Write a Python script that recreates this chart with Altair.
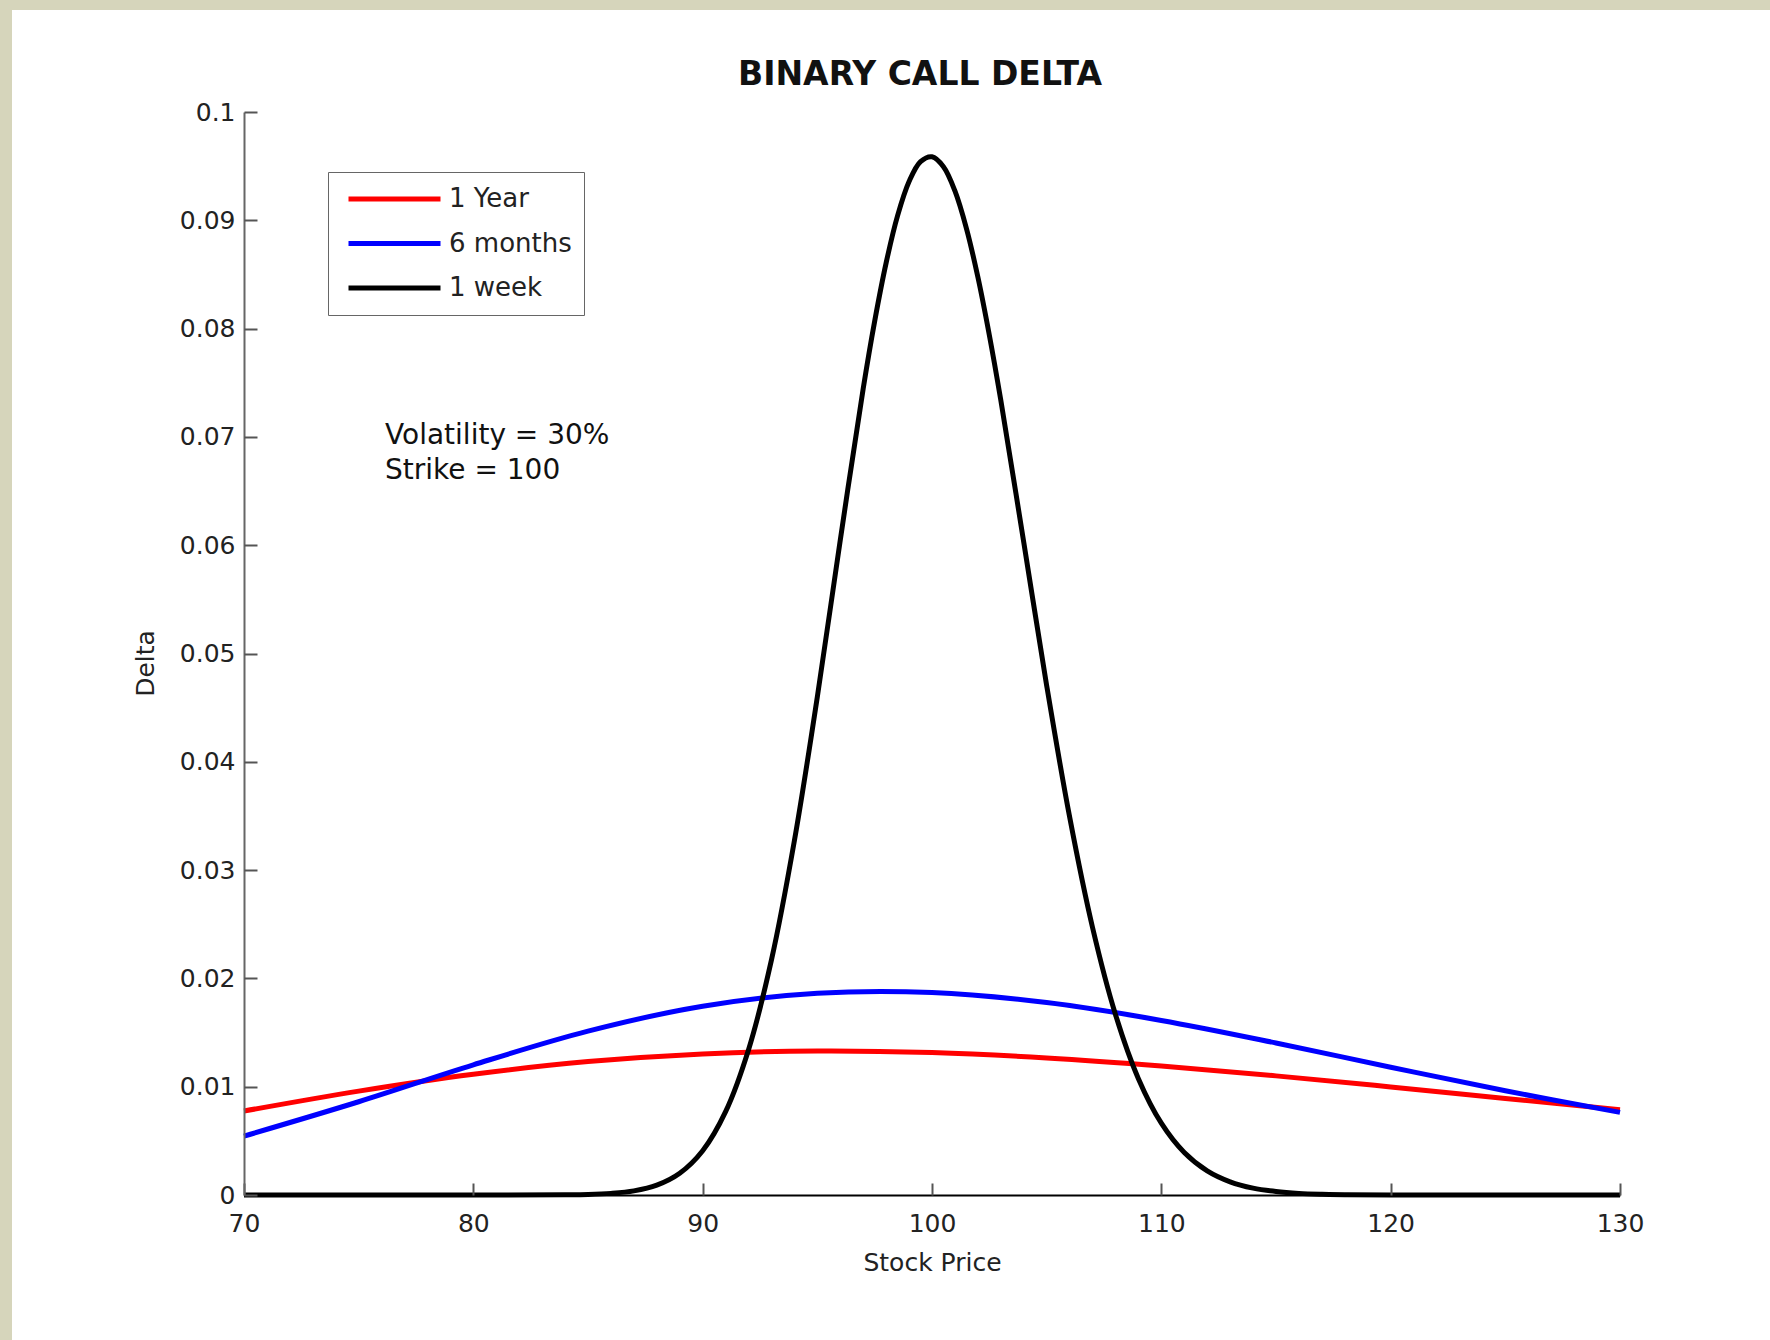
import altair as alt
import pandas as pd

FONT = "DejaVu Sans"
W, H = 1376, 1083

# ---- data ----
series_names = ["1 Year", "6 months", "1 week"]
series_colors = ["#ff0000", "#0000ff", "#000000"]

price_1y = [70, 75, 80, 85, 90, 95, 100, 105, 110, 115, 120, 125, 130]
delta_1y = [0.00775, 0.00959, 0.01115, 0.01232, 0.01303, 0.01330, 0.01315,
            0.01266, 0.01192, 0.01100, 0.00998, 0.00892, 0.00787]

price_6m = [70, 75, 80, 85, 90, 95, 100, 105, 110, 115, 120, 125, 130]
delta_6m = [0.00544, 0.00861, 0.01202, 0.01513, 0.01743, 0.01863, 0.01870,
            0.01777, 0.01612, 0.01404, 0.01180, 0.00962, 0.00763]

price_1w = [70, 80, 84, 85, 86, 87, 88, 89, 90, 91, 92, 93, 94, 95, 96, 97, 97.5,
            98, 98.5, 99, 99.5, 100, 100.5, 101, 101.5, 102, 102.5, 103, 104, 105,
            106, 107, 108, 109, 110, 111, 112, 113, 114, 115, 116, 117, 118, 120, 130]
delta_1w = [0.0, 0.0, 0.00002, 0.00005, 0.00015, 0.00038, 0.00091, 0.00201, 0.00409,
            0.00770, 0.01342, 0.02171, 0.03272, 0.04600, 0.06047, 0.07446, 0.08068,
            0.08607, 0.09043, 0.09358, 0.09542, 0.09587, 0.09495, 0.09271, 0.08926,
            0.08476, 0.07940, 0.07339, 0.06028, 0.04704, 0.03492, 0.02470, 0.01667,
            0.01074, 0.00663, 0.00392, 0.00222, 0.00121, 0.00063, 0.00032, 0.00015,
            0.00007, 0.00003, 0.0, 0.0]

x_ticks = [70, 80, 90, 100, 110, 120, 130]
y_ticks = [0, 0.01, 0.02, 0.03, 0.04, 0.05, 0.06, 0.07, 0.08, 0.09, 0.1]

note_lines = ["Volatility = 30%", "Strike = 100"]
note_x = [76.15, 76.15]
note_y = [0.0693, 0.0661]

title_text = "BINARY CALL DELTA"
x_title = "Stock Price"
y_title = "Delta"

# ---- build table ----
rows = []
for name, xs, ys in [("1 Year", price_1y, delta_1y),
                     ("6 months", price_6m, delta_6m),
                     ("1 week", price_1w, delta_1w)]:
    for s, d in zip(xs, ys):
        rows.append({"S": s, "Delta": d, "Series": name})
df = pd.DataFrame(rows)
notes = pd.DataFrame({"x": note_x, "y": note_y, "t": note_lines})

xscale = alt.Scale(domain=[70, 130], nice=False, zero=False)
yscale = alt.Scale(domain=[0, 0.1], nice=False, zero=False)

panel = alt.Chart(pd.DataFrame({"a": [0]})).mark_rect(fill="white").encode(
    x=alt.value(-232), x2=alt.value(W + 150), y=alt.value(-102), y2=alt.value(H + 145)
)

title = alt.Chart(pd.DataFrame({"t": [title_text]})).mark_text(
    align="center", baseline="alphabetic", fontSize=33, font=FONT, fontWeight="bold",
    color="#111111"
).encode(x=alt.value(W / 2 - 12), y=alt.value(-27), text="t:N")

lines = alt.Chart(df).mark_line(strokeWidth=5, interpolate="catmull-rom").encode(
    x=alt.X("S:Q", scale=xscale,
            axis=alt.Axis(title=x_title, values=x_ticks, tickSize=0, labelPadding=16,
                          labelFlush=False,
                          domainColor="#000000", domainWidth=2, labelFont=FONT,
                          labelFontSize=25, labelColor="#222222", titleFont=FONT,
                          titleFontSize=25, titleFontWeight="normal", titleColor="#222222",
                          titleY=67, titleBaseline="middle", grid=False, zindex=1)),
    y=alt.Y("Delta:Q", scale=yscale,
            axis=alt.Axis(title=y_title, values=y_ticks, format="~g", tickSize=0,
                          labelPadding=9, labelFlush=False, domainColor="#666666",
                          domainWidth=2,
                          labelFont=FONT, labelFontSize=25, labelColor="#222222",
                          titleFont=FONT, titleFontSize=25, titleFontWeight="normal",
                          titleColor="#222222", titleX=-99, titleY=551,
                          titleBaseline="middle", grid=False, zindex=1)),
    color=alt.Color("Series:N",
                    scale=alt.Scale(domain=series_names, range=series_colors),
                    legend=alt.Legend(title=None, orient="none", legendX=84, legendY=60,
                                      symbolType="stroke", symbolSize=8464,
                                      symbolStrokeWidth=5, clipHeight=30, rowPadding=14.5,
                                      padding=12, symbolOffset=6, labelOffset=6,
                                      labelFont=FONT, labelFontSize=26,
                                      labelColor="#222222", strokeColor="#666666",
                                      fillColor="white", labelLimit=400, zindex=1)),
)

ticks = alt.Chart(df).mark_point(opacity=0).encode(
    x=alt.X("S:Q", scale=xscale,
            axis=alt.Axis(orient="top", offset=-H, values=x_ticks, labels=False,
                          domain=False, tickSize=12, tickColor="#555555", tickWidth=2,
                          title=None, grid=False, zindex=1)),
    y=alt.Y("Delta:Q", scale=yscale,
            axis=alt.Axis(orient="right", offset=-W, values=y_ticks, labels=False,
                          domain=False, tickSize=13, tickColor="#555555", tickWidth=2,
                          title=None, grid=False, zindex=1)),
)

ann = alt.Chart(notes).mark_text(align="left", baseline="alphabetic", fontSize=28,
                                  font=FONT, color="#111111").encode(
    x=alt.X("x:Q", scale=xscale, axis=None),
    y=alt.Y("y:Q", scale=yscale, axis=None),
    text="t:N",
)

chart = alt.layer(panel, title, lines, ticks, ann).resolve_axis(
    x="independent", y="independent"
).properties(
    width=W, height=H,
    padding={"left": 244, "top": 112, "right": 150, "bottom": 145},
    autosize="none",
    background="#d6d5bb",
).configure_view(stroke="transparent")

chart.save("out.html", embed_options={"renderer": "svg", "actions": False})
